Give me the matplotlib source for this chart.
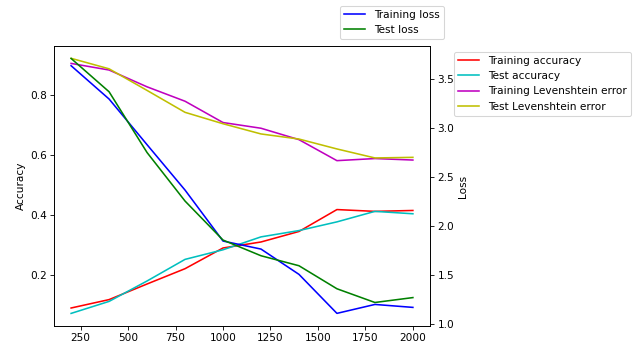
import numpy as np
import matplotlib
matplotlib.use("Agg")
import matplotlib.pyplot as plt

# training set sizes
steps = [200, 400, 600, 800, 1000, 1200, 1400, 1600, 1800, 2000]

# left axis values
train_acc = [0.090, 0.118, 0.170, 0.221, 0.290, 0.310, 0.345, 0.418, 0.412, 0.415]
test_acc = [0.072, 0.112, 0.180, 0.252, 0.284, 0.327, 0.348, 0.377, 0.412, 0.404]
train_lev = [0.905, 0.883, 0.827, 0.779, 0.708, 0.689, 0.651, 0.581, 0.588, 0.583]
test_lev = [0.922, 0.887, 0.815, 0.742, 0.704, 0.670, 0.653, 0.620, 0.590, 0.592]

# right axis values
train_loss = [3.636, 3.296, 2.830, 2.367, 1.847, 1.765, 1.507, 1.109, 1.200, 1.170]
test_loss = [3.710, 3.370, 2.750, 2.255, 1.857, 1.697, 1.595, 1.360, 1.220, 1.270]

DPI = 76
fig = plt.figure(figsize=(637 / DPI, 347 / DPI), dpi=DPI)
ax = fig.add_axes([0.0848, 0.0605, 0.5902, 0.8069])

ax.plot(steps, train_acc, 'r-', label="Training accuracy")
ax.plot(steps, test_acc, 'c-', label="Test accuracy")
ax.plot(steps, train_lev, 'm-', label="Training Levenshtein error")
ax.plot(steps, test_lev, 'y-', label="Test Levenshtein error")
ax.set_ylabel("Accuracy")
ax.set_yticks([0.2, 0.4, 0.6, 0.8])

ax2 = ax.twinx()
ax2.plot(steps, train_loss, 'b-', label="Training loss")
ax2.plot(steps, test_loss, 'g-', label="Test loss")
ax2.set_ylabel("Loss")
ax2.set_ylim(0.98, 3.837)
ax.set_ylim(0.03, 0.963)

fig.legend(handles=ax2.get_lines(), loc="upper left", borderaxespad=0,
           bbox_to_anchor=(340 / 637, 1 - 5.5 / 347), bbox_transform=fig.transFigure)
fig.legend(handles=ax.get_lines(), loc="upper left", borderaxespad=0,
           bbox_to_anchor=(454 / 637, 1 - 51.5 / 347), bbox_transform=fig.transFigure)

fig.savefig("out.png", dpi=DPI)
